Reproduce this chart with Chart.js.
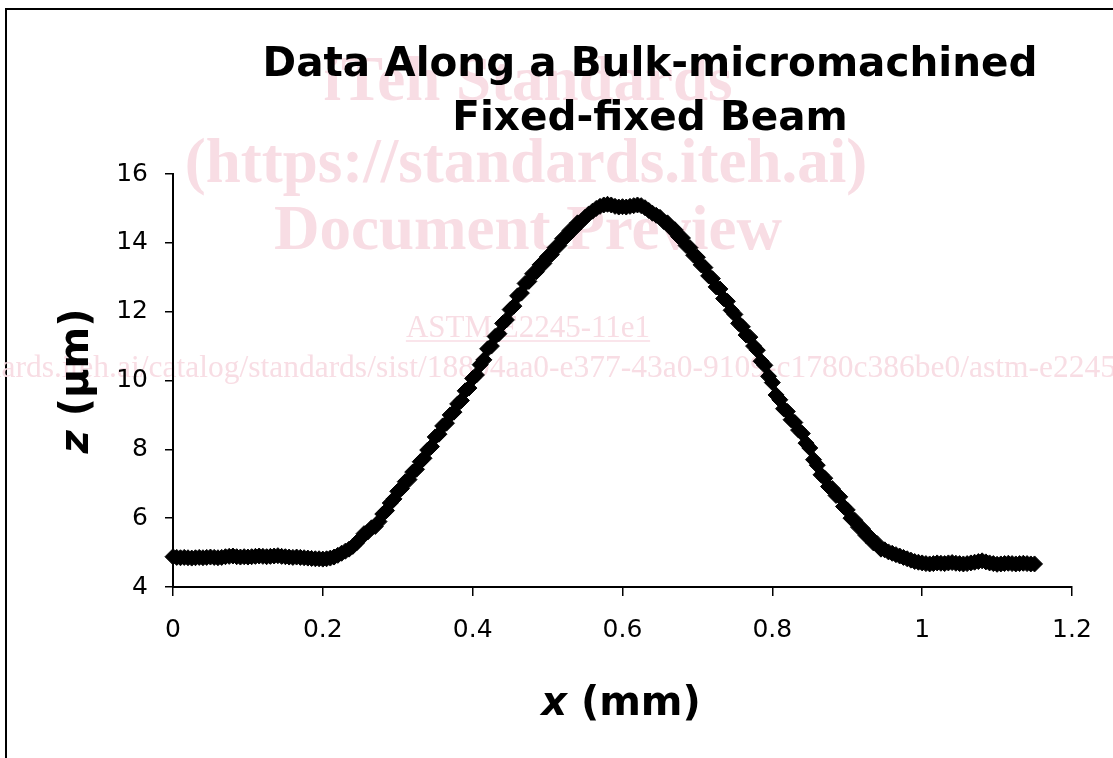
<!DOCTYPE html>
<html lang="en">
  <head>
    <meta charset="UTF-8" />
    <title>Data Along a Bulk-micromachined Fixed-fixed Beam</title>
    <style>
      * {
        margin: 0;
        padding: 0;
        box-sizing: border-box;
      }

      body {
        width: 1113px;
        height: 758px;
        background: #fff;
        overflow: hidden;
        position: relative;
      }

      .frame {
        position: absolute;
        left: 5px;
        top: 8px;
        width: 1200px;
        height: 800px;
        border-left: 2px solid #000;
        border-top: 2px solid #000;
      }

      .chart-box {
        position: absolute;
        left: 0;
        top: 0;
        width: 1113px;
        height: 758px;
      }
    </style>
  </head>
  <body>
    <div class="frame"></div>
    <div class="chart-box">
      <canvas id="beamChart"></canvas>
    </div>
    <script src="https://cdn.jsdelivr.net/npm/chart.js"></script>
    <script>
      // position along the beam (mm)
      const xValues = [
        0, 0.005, 0.01, 0.015, 0.02, 0.025, 0.03, 0.035, 0.04, 0.045,
        0.05, 0.055, 0.06, 0.065, 0.07, 0.075, 0.08, 0.085, 0.09, 0.095,
        0.1, 0.105, 0.11, 0.115, 0.12, 0.125, 0.13, 0.135, 0.14, 0.145,
        0.15, 0.155, 0.16, 0.165, 0.17, 0.175, 0.18, 0.185, 0.19, 0.195,
        0.2, 0.205, 0.21, 0.215, 0.22, 0.225, 0.23, 0.235, 0.24, 0.245,
        0.25, 0.255, 0.26, 0.265, 0.27, 0.275, 0.28, 0.285, 0.29, 0.295,
        0.3, 0.305, 0.31, 0.315, 0.32, 0.325, 0.33, 0.335, 0.34, 0.345,
        0.35, 0.355, 0.36, 0.365, 0.37, 0.375, 0.38, 0.385, 0.39, 0.395,
        0.4, 0.405, 0.41, 0.415, 0.42, 0.425, 0.43, 0.435, 0.44, 0.445,
        0.45, 0.455, 0.46, 0.465, 0.47, 0.475, 0.48, 0.485, 0.49, 0.495,
        0.5, 0.505, 0.51, 0.515, 0.52, 0.525, 0.53, 0.535, 0.54, 0.545,
        0.55, 0.555, 0.56, 0.565, 0.57, 0.575, 0.58, 0.585, 0.59, 0.595,
        0.6, 0.605, 0.61, 0.615, 0.62, 0.625, 0.63, 0.635, 0.64, 0.645,
        0.65, 0.655, 0.66, 0.665, 0.67, 0.675, 0.68, 0.685, 0.69, 0.695,
        0.7, 0.705, 0.71, 0.715, 0.72, 0.725, 0.73, 0.735, 0.74, 0.745,
        0.75, 0.755, 0.76, 0.765, 0.77, 0.775, 0.78, 0.785, 0.79, 0.795,
        0.8, 0.805, 0.81, 0.815, 0.82, 0.825, 0.83, 0.835, 0.84, 0.845,
        0.85, 0.855, 0.86, 0.865, 0.87, 0.875, 0.88, 0.885, 0.89, 0.895,
        0.9, 0.905, 0.91, 0.915, 0.92, 0.925, 0.93, 0.935, 0.94, 0.945,
        0.95, 0.955, 0.96, 0.965, 0.97, 0.975, 0.98, 0.985, 0.99, 0.995,
        1, 1.005, 1.01, 1.015, 1.02, 1.025, 1.03, 1.035, 1.04, 1.045,
        1.05, 1.055, 1.06, 1.065, 1.07, 1.075, 1.08, 1.085, 1.09, 1.095,
        1.1, 1.105, 1.11, 1.115, 1.12, 1.125, 1.13, 1.135, 1.14, 1.145, 1.15,
      ];

      // measured height (um)
      const zValues = [
        4.88, 4.86, 4.85, 4.86, 4.85, 4.84, 4.85, 4.86, 4.85, 4.86,
        4.87, 4.86, 4.85, 4.86, 4.88, 4.89, 4.9, 4.88, 4.87, 4.88,
        4.87, 4.88, 4.89, 4.9, 4.89, 4.88, 4.89, 4.9, 4.91, 4.89,
        4.88, 4.87, 4.86, 4.87, 4.86, 4.85, 4.84, 4.83, 4.82, 4.82,
        4.81, 4.82, 4.84, 4.87, 4.92, 4.98, 5.04, 5.1, 5.18, 5.28,
        5.4, 5.55, 5.6, 5.72, 5.76, 5.9, 6.12, 6.22, 6.44, 6.56,
        6.78, 6.86, 7.06, 7.12, 7.34, 7.42, 7.64, 7.74, 7.98, 8.08,
        8.36, 8.44, 8.68, 8.76, 9.0, 9.08, 9.32, 9.42, 9.7, 9.78,
        10.06, 10.16, 10.46, 10.6, 10.92, 11.0, 11.28, 11.36, 11.66, 11.76,
        12.06, 12.16, 12.46, 12.54, 12.82, 12.88, 13.1, 13.16, 13.36, 13.4,
        13.6, 13.66, 13.86, 13.92, 14.12, 14.18, 14.36, 14.4, 14.58, 14.62,
        14.74, 14.84, 14.92, 15.0, 15.06, 15.1, 15.12, 15.1, 15.06, 15.04,
        15.05, 15.04, 15.06, 15.08, 15.1, 15.08, 15.02, 14.94, 14.86, 14.8,
        14.74, 14.62, 14.58, 14.42, 14.38, 14.18, 14.14, 13.92, 13.86, 13.64,
        13.58, 13.36, 13.28, 13.04, 12.96, 12.72, 12.66, 12.38, 12.3, 12.04,
        11.92, 11.66, 11.56, 11.32, 11.26, 11.0, 10.88, 10.56, 10.44, 10.12,
        9.94, 9.58, 9.44, 9.18, 9.1, 8.86, 8.78, 8.56, 8.46, 8.18,
        8.04, 7.7, 7.54, 7.26, 7.16, 6.92, 6.86, 6.66, 6.62, 6.34,
        6.24, 6.0, 5.94, 5.74, 5.7, 5.5, 5.46, 5.28, 5.26, 5.1,
        5.08, 5.02, 4.98, 4.94, 4.9, 4.86, 4.82, 4.78, 4.74, 4.72,
        4.7, 4.68, 4.67, 4.68, 4.7, 4.69, 4.68, 4.7, 4.71, 4.69,
        4.68, 4.67, 4.68, 4.7, 4.72, 4.74, 4.76, 4.73, 4.7, 4.68,
        4.66, 4.67, 4.68, 4.69, 4.68, 4.67, 4.68, 4.69, 4.68, 4.67, 4.67,
      ];

      const xTicks = [0, 0.2, 0.4, 0.6, 0.8, 1, 1.2];
      const xTickLabels = ["0", "0.2", "0.4", "0.6", "0.8", "1", "1.2"];
      const yTicks = [4, 6, 8, 10, 12, 14, 16];
      const yTickLabels = ["4", "6", "8", "10", "12", "14", "16"];

      const titleLines = ["Data Along a Bulk-micromachined", "Fixed-fixed Beam"];
      const xTitleParts = ["x", " (mm)"];
      const yTitleParts = ["z", " (\u00b5m)"];

      // watermark of the source document
      const watermarkBig = [
        "iTeh Standards",
        "(https://standards.iteh.ai)",
        "Document Preview",
      ];
      const watermarkSmall = [
        "ASTM E2245-11e1",
        "https://standards.iteh.ai/catalog/standards/sist/18894aa0-e377-43a0-9109-c1780c386be0/astm-e2245-11e1",
      ];

      const points = xValues.map((x, i) => ({ x: x, y: zValues[i] }));

      function drawParts(ctx, parts, fonts, cx, baseY) {
        let widths = parts.map((p, i) => {
          ctx.font = fonts[i];
          return ctx.measureText(p).width;
        });
        let total = widths.reduce((a, b) => a + b, 0);
        let x = cx - total / 2;
        ctx.textAlign = "left";
        ctx.textBaseline = "alphabetic";
        parts.forEach((p, i) => {
          ctx.font = fonts[i];
          ctx.fillText(p, x, baseY);
          x += widths[i];
        });
      }

      const beamText = {
        id: "beamText",
        beforeDraw(chart) {
          const ctx = chart.ctx;
          ctx.save();
          ctx.fillStyle = "#f8dde4";
          ctx.strokeStyle = "#f8dde4";
          ctx.textAlign = "center";
          ctx.textBaseline = "alphabetic";
          ctx.font = 'bold 63px "Liberation Serif"';
          ctx.fillText(watermarkBig[0], 528, 100);
          ctx.fillText(watermarkBig[1], 526, 182);
          ctx.fillText(watermarkBig[2], 528, 249);
          ctx.font = '31px "Liberation Serif"';
          ctx.fillText(watermarkSmall[0], 528, 337);
          let w = ctx.measureText(watermarkSmall[0]).width;
          ctx.lineWidth = 1.5;
          ctx.beginPath();
          ctx.moveTo(528 - w / 2, 341);
          ctx.lineTo(528 + w / 2, 341);
          ctx.stroke();
          ctx.font = '31.5px "Liberation Serif"';
          ctx.fillText(watermarkSmall[1], 517, 377);
          ctx.restore();
        },
        afterDraw(chart) {
          const ctx = chart.ctx;
          ctx.save();
          ctx.fillStyle = "#000";
          ctx.textAlign = "center";
          ctx.textBaseline = "alphabetic";
          ctx.font = 'bold 40.5px "DejaVu Sans"';
          ctx.fillText(titleLines[0], 650, 76);
          ctx.fillText(titleLines[1], 650, 130);

          const fonts = ['italic bold 40px "DejaVu Sans"', 'bold 40px "DejaVu Sans"'];
          drawParts(ctx, xTitleParts, fonts, 621, 715);

          ctx.translate(88, 381);
          ctx.rotate(-Math.PI / 2);
          drawParts(ctx, yTitleParts, fonts, 0, 0);
          ctx.restore();
        },
      };

      new Chart(document.getElementById("beamChart"), {
        type: "scatter",
        data: {
          datasets: [
            {
              label: "z",
              data: points,
              pointStyle: "rectRot",
              pointRadius: 8,
              pointHoverRadius: 8,
              backgroundColor: "#000",
              borderColor: "#000",
              borderWidth: 1,
              showLine: false,
              clip: false,
            },
          ],
        },
        options: {
          responsive: true,
          maintainAspectRatio: false,
          animation: false,
          events: [],
          layout: {
            padding: { top: 174, right: 41, bottom: 0, left: 0 },
          },
          plugins: {
            legend: { display: false },
            tooltip: { enabled: false },
            title: { display: false },
          },
          scales: {
            x: {
              type: "linear",
              min: 0,
              max: 1.2,
              afterBuildTicks: (s) => {
                s.ticks = xTicks.map((v) => ({ value: v }));
              },
              afterFit: (s) => {
                s.height = 171;
              },
              ticks: {
                font: { family: "DejaVu Sans", size: 25 },
                color: "#000",
                padding: 19,
                maxRotation: 0,
                callback: (v, i) => xTickLabels[i],
              },
              grid: {
                drawOnChartArea: false,
                drawTicks: true,
                tickLength: 9,
                color: "#000",
                lineWidth: 1.5,
              },
              border: { display: true, color: "#000", width: 2 },
            },
            y: {
              type: "linear",
              min: 4,
              max: 16,
              afterBuildTicks: (s) => {
                s.ticks = yTicks.map((v) => ({ value: v }));
              },
              afterFit: (s) => {
                s.width = 173;
              },
              ticks: {
                font: { family: "DejaVu Sans", size: 25 },
                color: "#000",
                padding: 17,
                callback: (v, i) => yTickLabels[i],
              },
              grid: {
                drawOnChartArea: false,
                drawTicks: true,
                tickLength: 8,
                color: "#000",
                lineWidth: 1.5,
              },
              border: { display: true, color: "#000", width: 2 },
            },
          },
        },
        plugins: [beamText],
      });
    </script>
  </body>
</html>
